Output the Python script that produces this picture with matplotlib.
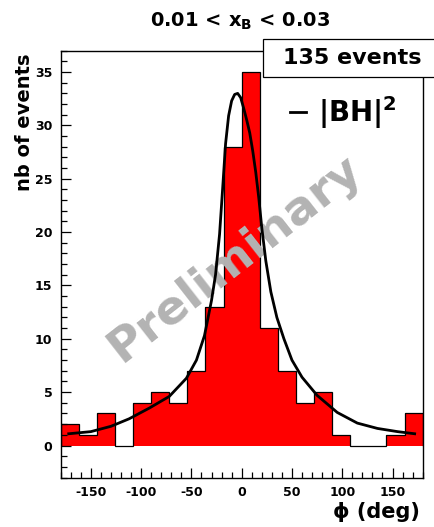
import numpy as np
import matplotlib.pyplot as plt
from matplotlib.patches import Rectangle
from matplotlib.lines import Line2D
from matplotlib.ticker import MultipleLocator

# histogram: 20 bins of 18 deg between -180 and 180
bin_edges = np.linspace(-180, 180, 21)
counts = [2, 1, 3, 0, 4, 5, 4, 7, 13, 28, 35, 11, 7, 4, 5, 1, 0, 0, 1, 3]

# |BH|^2 curve
fit_phi = [-172, -150, -130, -112, -92, -72, -55, -45, -37, -30, -26, -22, -19,
           -16, -13, -10, -7, -4, -1, 2, 5, 8, 11, 14, 17, 20, 24, 29, 35, 42,
           50, 60, 75, 95, 115, 135, 155, 172]
fit_val = [1.1, 1.3, 1.8, 2.5, 3.5, 4.6, 6.3, 8.0, 10.3, 13.6, 16.0, 19.8, 24.0,
           28.3, 30.9, 32.3, 32.9, 33.0, 32.6, 31.6, 30.5, 29.3, 27.6, 25.6, 23.2,
           20.4, 17.3, 14.4, 12.0, 10.0, 8.0, 6.4, 4.7, 3.1, 2.1, 1.6, 1.3, 1.1]

title = r'0.01 < x$_\mathbf{B}$ < 0.03'
n_events = '135 events'

plt.rcParams['font.family'] = 'DejaVu Sans'
plt.rcParams['font.weight'] = 'bold'
plt.rcParams['axes.unicode_minus'] = False
plt.rcParams['mathtext.fontset'] = 'dejavusans'

fig = plt.figure(figsize=(4.35, 5.27), dpi=100)
ax = fig.add_axes([0.1395, 0.0939, 0.8322, 0.8099])

ax.stairs(counts, bin_edges, fill=True, color='#ff0000', zorder=1)
ax.stairs(counts, bin_edges, color='black', lw=0.9, zorder=2)
ax.text(0.541, 0.510, 'Preliminary', transform=fig.transFigure, rotation=38,
        color='#b3b3b3', fontsize=34, fontweight='bold', ha='center', va='center', zorder=3)
ax.plot(fit_phi, fit_val, color='black', lw=2.0, zorder=4)

ax.set_xlim(-180, 180)
ax.set_ylim(-3, 37)
ax.xaxis.set_major_locator(MultipleLocator(50))
ax.xaxis.set_minor_locator(MultipleLocator(10))
ax.yaxis.set_major_locator(MultipleLocator(5))
ax.yaxis.set_minor_locator(MultipleLocator(1))
ax.tick_params(which='both', direction='in', top=False, right=False, width=0.9, labelsize=9)
ax.tick_params(which='major', length=7.5)
ax.tick_params(which='minor', length=4)
ax.tick_params(axis='both', pad=6)
for s in ax.spines.values():
    s.set_linewidth(1.0)

# events box on top of the frame
fig.add_artist(Rectangle((0.6046, 0.8533), 0.45, 0.0721, transform=fig.transFigure,
                         facecolor='white', edgecolor='black', lw=0.9, zorder=5))
fig.text(0.8103, 0.89, n_events, ha='center', va='center', fontsize=16, zorder=6)

# legend
fig.add_artist(Line2D([0.6667, 0.7034], [0.788, 0.788], transform=fig.transFigure,
                      color='black', lw=2))
fig.text(0.731, 0.768, r'|BH|$^\mathbf{2}$', ha='left', va='baseline', fontsize=20)

fig.text(0.552, 0.949, title, ha='center', va='baseline', fontsize=14)
fig.text(0.057, 0.8994, 'nb of events', rotation=90, ha='center', va='top', fontsize=14)
fig.text(0.9655, 0.017, '\u03d5 (deg)', ha='right', va='baseline', fontsize=15)

fig.savefig('out.png', dpi=100)
